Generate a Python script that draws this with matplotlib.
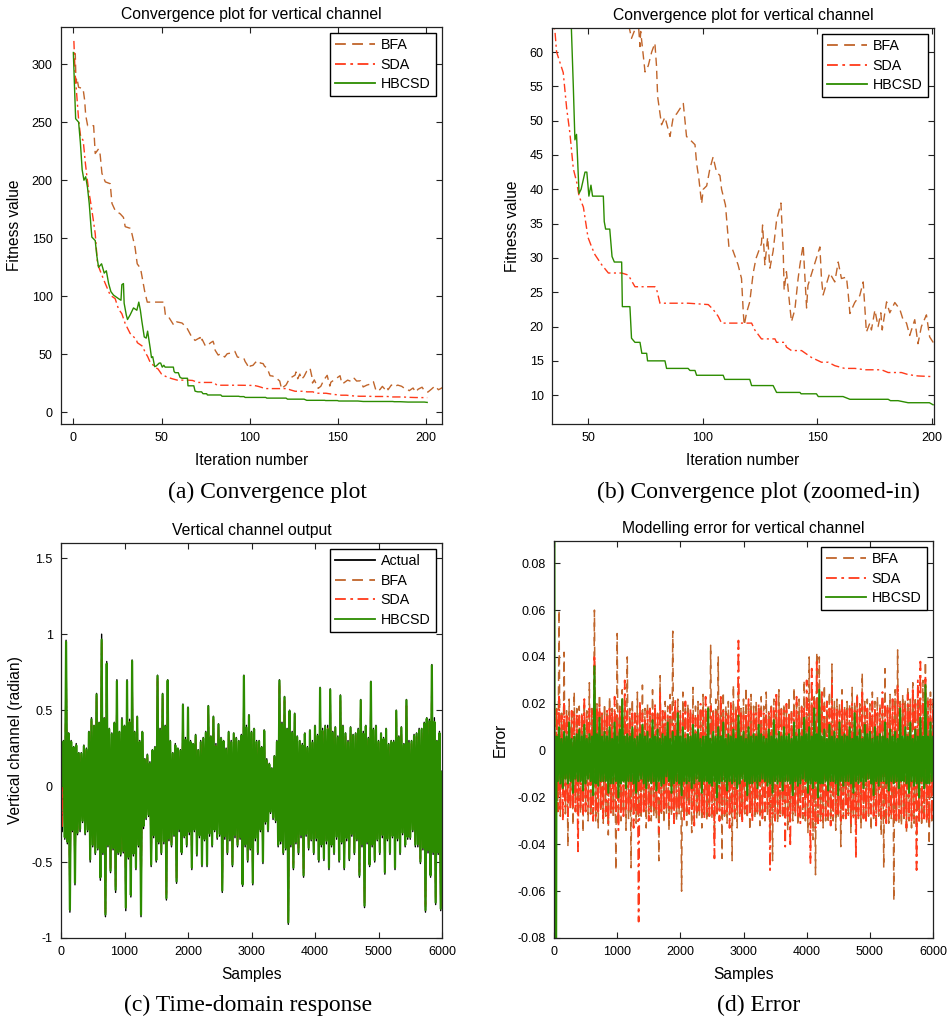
import numpy as np
import matplotlib
matplotlib.use("Agg")
import matplotlib.pyplot as plt
from matplotlib.ticker import FuncFormatter

plt.rcParams['font.family'] = ['Liberation Sans', 'DejaVu Sans']
plt.rcParams['axes.unicode_minus'] = False

# ---------------- Convergence data (iteration, fitness) ----------------
bfa_iter = [0, 1.1, 1.5, 2, 3, 5.5, 6.4, 7, 8.1, 11.5, 12.4, 14.3, 15.2, 16.2, 18.1, 20.9, 21.9, 23.7,
            26.6, 28.4, 29.4, 32.2, 33.2, 35, 36.2, 38.1, 39.6, 40.4, 41.9, 51.3, 52.2, 54.1, 57, 58.6,
            61.6, 64.3, 67.1, 69, 71.9, 72.7, 73, 74.9, 76.3, 77.8, 79.2, 79.9, 80.4, 82.1, 83.6, 85.8,
            87.2, 88.7, 91.6, 93, 95.2, 96.7, 97.4, 98.4, 99.6, 100.3, 101.8, 103.2, 104.6, 106.1, 107.6,
            108.3, 110, 111.5, 113, 115.5, 117, 117.8, 118.2, 119.2, 120.6, 122.1, 123.3, 125.7, 126.2,
            127.2, 128.4, 129.4, 130.8, 132.3, 134.2, 135.2, 135.6, 136.6, 138.1, 138.8, 140.3, 141.7,
            142.5, 143.9, 145.4, 146, 148.3, 151.2, 151.9, 152.6, 155.5, 157.7, 159.2, 160.6, 162.8,
            163.5, 164.3, 166.4, 168.6, 170.1, 171.5, 173, 173.7, 175.2, 176.6, 177.8, 178.4, 180.3,
            181.7, 183.9, 186.1, 187.5, 189, 190.4, 192.6, 194, 195.5, 197.7, 199.1, 201, 203, 205, 207, 210]
bfa_fit = [310, 309, 284, 288, 280, 279, 269, 256, 247, 247, 223, 227, 222, 206, 198.6, 197, 180, 174,
           171, 168, 160, 158.6, 154, 142, 128, 124, 111, 104.6, 95, 95, 83.6, 82, 75, 78,
           77, 73, 65, 62, 64.5, 60.8, 63, 57.1, 58, 60, 61.3, 58, 53.5, 49.4, 50.5, 47.7,
           50.5, 51, 52.5, 47.7, 47, 46.5, 43.8, 41.5, 37.9, 40, 40.5, 43, 44.7, 42.5, 42,
           40, 37.7, 31.6, 31.3, 29, 27, 21.9, 20.2, 22, 23.6, 27.8, 29.9, 32.1, 34.8,
           29, 33, 28.5, 31, 35.5, 38, 31, 25.3, 28, 22.9, 20.7, 22.5, 27,
           29, 31.9, 22.7, 26, 28.5, 31.6, 27, 24.6, 27.8, 26.5, 29.4, 27, 27.2,
           25, 21.9, 23.5, 24.5, 26.5, 19.2, 20.5, 19.5, 22.4, 20, 22, 19.5, 23.6,
           22, 23.5, 22.5, 21, 20.5, 18.7, 21, 17.5, 20, 21.7, 18.5, 17.5, 20, 22.7, 19.5, 22]

sda_iter = [0.3, 1, 2, 3, 4, 5.6, 6.8, 7.7, 8.7, 9.6, 11.1, 12.4, 13.7, 15.2, 18.1, 20.9, 23.7, 25.6,
            27.5, 29.4, 32.2, 35.6, 36.3, 39.2, 40.7, 42.1, 43.6, 45.1, 46.1, 48, 50, 51.6, 53, 56,
            58.9, 64.7, 67.6, 70.5, 79.2, 79.9, 81.4, 93.7, 102.5, 104.6, 106.8, 108.3, 121.4, 122.8,
            125.7, 131.6, 132.3, 135.9, 136.6, 138.8, 143.2, 147.5, 151.9, 154.8, 157.7, 162, 166.5,
            170.9, 178.1, 181, 186.8, 189.7, 194, 200.6]
sda_fit = [320, 292, 272, 252, 239, 234, 215, 203, 191, 183, 168, 154, 128, 122, 111, 101, 98, 89,
           85, 76.5, 68, 63, 60, 57, 51.8, 48.2, 43, 41, 39, 37.4, 33, 31.6, 30.5, 29,
           27.8, 27.8, 27.5, 25.8, 25.8, 25.5, 23.4, 23.4, 23.2, 22.5, 21.5, 20.5, 20.5, 19.5,
           18.2, 18.2, 17.7, 17.7, 17, 16.5, 16.5, 15.5, 14.8, 14.8, 14.3, 13.9, 13.9,
           13.7, 13.7, 13.3, 13.3, 13, 12.8, 12.7]

hb_iter = [0, 0.6, 1.3, 3, 4, 5, 6, 7, 8, 9, 10, 10.5, 12.4, 13.3, 14.3, 16, 17.5, 18.7, 20, 21.3,
           22.8, 25.6, 27, 27.5, 28.4, 28.8, 30, 30.7, 32.2, 34.1, 36, 37.1, 38, 38.8, 40.2, 41.3,
           42.1, 43.6, 44.3, 45, 46.1, 47, 48.7, 49.5, 50.4, 51.3, 52, 56.7, 57.1, 57.7, 59.5, 60.5,
           61.5, 64.7, 65, 68.3, 69, 70.5, 72.7, 73.5, 75.6, 76, 83.6, 84.3, 93.7, 94.5, 96.7, 97.4,
           109, 109.7, 120.6, 121.4, 130.8, 132.3, 142.5, 143, 149.7, 150.5, 161.3, 164.3, 181, 182,
           185.3, 189.7, 199, 200.6]
hb_fit = [310, 283, 253, 250, 232, 209, 200, 203, 194, 180, 160, 151, 148, 135, 125, 128, 120, 122, 111, 104,
          101, 98, 96.6, 110, 111, 94, 84, 80, 84, 90, 88, 95, 88, 79, 65, 64,
          70, 55, 47.2, 48, 39.4, 40, 42.5, 42.5, 39, 40.6, 39, 39, 35.3, 34.2, 34.2, 30.2,
          29.4, 29.4, 22.9, 22.9, 18.3, 17.7, 17.7, 16.1, 16.1, 15, 15, 13.9, 13.9, 13.6, 13.6, 12.9,
          12.9, 12.3, 12.3, 11.4, 11.4, 10.4, 10.4, 10.2, 10.2, 9.8, 9.8, 9.4, 9.4, 9.2,
          9.2, 8.9, 8.9, 8.6]

# ---------------- Time-domain data ----------------
# Read as alternating local maxima ("hi", at samples 0, 40, 80, ...) and
# local minima ("lo", at samples 20, 60, 100, ...).
sample_step = 20

actual_hi = [
    0.41, 0.30, 0.96, 0.35, 0.30, 0.26, 0.28, 0.22, 0.22, 0.27,
    0.25, 0.36, 0.45, 0.40, 0.61, 0.42, 1.00, 0.45, 0.82, 0.38,
    0.35, 0.42, 0.70, 0.36, 0.45, 0.40, 0.70, 0.44, 0.83, 0.36,
    0.46, 0.30, 0.36, 0.18, 0.21, 0.16, 0.24, 0.26, 0.73, 0.38,
    0.61, 0.40, 0.70, 0.30, 0.22, 0.28, 0.25, 0.24, 0.54, 0.32,
    0.52, 0.30, 0.28, 0.34, 0.24, 0.30, 0.32, 0.36, 0.53, 0.33,
    0.46, 0.28, 0.41, 0.32, 0.30, 0.25, 0.36, 0.30, 0.35, 0.32,
    0.30, 0.34, 0.73, 0.40, 0.47, 0.36, 0.38, 0.30, 0.30, 0.26,
    0.37, 0.18, 0.15, 0.12, 0.20, 0.30, 0.70, 0.42, 0.59, 0.38,
    0.50, 0.36, 0.48, 0.33, 0.30, 0.28, 0.35, 0.26, 0.37, 0.30,
    0.40, 0.34, 0.65, 0.38, 0.40, 0.40, 0.64, 0.36, 0.39, 0.33,
    0.60, 0.40, 0.35, 0.30, 0.39, 0.34, 0.35, 0.38, 0.57, 0.36,
    0.40, 0.32, 0.69, 0.38, 0.40, 0.30, 0.35, 0.32, 0.38, 0.28,
    0.30, 0.30, 0.50, 0.33, 0.39, 0.28, 0.57, 0.30, 0.30, 0.34,
    0.35, 0.38, 0.38, 0.42, 0.45, 0.44, 0.80, 0.45, 0.30, 0.36,
    0.10]
actual_lo = [
    -0.30, -0.35, -0.38, -0.83, -0.30, -0.65, -0.32, -0.30, -0.24, -0.32,
    -0.30, -0.50, -0.40, -0.45, -0.42, -0.62, -0.45, -0.86, -0.40, -0.57,
    -0.42, -0.70, -0.45, -0.46, -0.44, -0.82, -0.48, -0.73, -0.46, -0.55,
    -0.40, -0.86, -0.28, -0.22, -0.20, -0.53, -0.34, -0.50, -0.38, -0.45,
    -0.38, -0.75, -0.36, -0.40, -0.33, -0.64, -0.30, -0.45, -0.34, -0.40,
    -0.32, -0.55, -0.30, -0.46, -0.34, -0.53, -0.36, -0.53, -0.33, -0.40,
    -0.30, -0.35, -0.33, -0.70, -0.35, -0.45, -0.36, -0.53, -0.34, -0.40,
    -0.35, -0.66, -0.40, -0.50, -0.42, -0.65, -0.36, -0.45, -0.30, -0.51,
    -0.25, -0.30, -0.18, -0.22, -0.24, -0.40, -0.38, -0.45, -0.42, -0.91,
    -0.40, -0.55, -0.38, -0.45, -0.34, -0.60, -0.33, -0.42, -0.36, -0.45,
    -0.36, -0.50, -0.40, -0.49, -0.38, -0.55, -0.40, -0.45, -0.35, -0.50,
    -0.38, -0.55, -0.36, -0.49, -0.33, -0.45, -0.36, -0.60, -0.40, -0.80,
    -0.38, -0.53, -0.40, -0.50, -0.36, -0.45, -0.34, -0.58, -0.36, -0.45,
    -0.34, -0.55, -0.36, -0.45, -0.32, -0.40, -0.35, -0.35, -0.30, -0.40,
    -0.40, -0.51, -0.42, -0.83, -0.44, -0.60, -0.45, -0.78, -0.45, -0.82,
    -0.45]

bfa_err_hi = [
    0.012, 0.018, 0.060, 0.016, 0.042, 0.017, 0.022, 0.015, 0.025, 0.018,
    0.019, 0.016, 0.021, 0.017, 0.029, 0.018, 0.060, 0.020, 0.024, 0.017,
    0.020, 0.017, 0.023, 0.018, 0.016, 0.050, 0.019, 0.026, 0.018, 0.040,
    0.018, 0.022, 0.017, 0.025, 0.016, 0.028, 0.018, 0.020, 0.017, 0.026,
    0.018, 0.016, 0.032, 0.017, 0.021, 0.019, 0.024, 0.051, 0.018, 0.022,
    0.017, 0.025, 0.018, 0.020, 0.016, 0.027, 0.019, 0.021, 0.017, 0.024,
    0.018, 0.019, 0.045, 0.017, 0.022, 0.040, 0.018, 0.025, 0.019, 0.021,
    0.017, 0.028, 0.019, 0.027, 0.018, 0.022, 0.027, 0.018, 0.024, 0.019,
    0.021, 0.018, 0.023, 0.019, 0.025, 0.017, 0.019, 0.022, 0.018, 0.026,
    0.018, 0.020, 0.019, 0.023, 0.018, 0.027, 0.020, 0.022, 0.019, 0.030,
    0.022, 0.040, 0.024, 0.023, 0.042, 0.040, 0.022, 0.028, 0.021, 0.025,
    0.037, 0.021, 0.022, 0.020, 0.026, 0.019, 0.021, 0.020, 0.027, 0.021,
    0.024, 0.020, 0.033, 0.021, 0.022, 0.020, 0.025, 0.021, 0.023, 0.020,
    0.021, 0.035, 0.020, 0.024, 0.022, 0.026, 0.043, 0.021, 0.024, 0.022,
    0.027, 0.022, 0.029, 0.023, 0.026, 0.022, 0.030, 0.038, 0.023, 0.025,
    0.022]
bfa_err_lo = [
    -0.026, -0.025, -0.028, -0.018, -0.027, -0.041, -0.025, -0.032, -0.026, -0.028,
    -0.027, -0.035, -0.026, -0.030, -0.028, -0.027, -0.030, -0.033, -0.026, -0.031,
    -0.028, -0.036, -0.027, -0.029, -0.051, -0.028, -0.030, -0.027, -0.034, -0.029,
    -0.050, -0.027, -0.031, -0.028, -0.028, -0.026, -0.033, -0.027, -0.030, -0.028,
    -0.029, -0.047, -0.028, -0.031, -0.027, -0.034, -0.028, -0.029, -0.030, -0.027,
    -0.060, -0.028, -0.032, -0.027, -0.035, -0.029, -0.029, -0.028, -0.033, -0.027,
    -0.030, -0.028, -0.029, -0.036, -0.027, -0.030, -0.046, -0.028, -0.031, -0.027,
    -0.047, -0.029, -0.033, -0.028, -0.030, -0.027, -0.029, -0.034, -0.028, -0.029,
    -0.028, -0.032, -0.029, -0.030, -0.028, -0.036, -0.047, -0.029, -0.031, -0.028,
    -0.029, -0.028, -0.034, -0.029, -0.030, -0.028, -0.032, -0.029, -0.029, -0.030,
    -0.035, -0.031, -0.038, -0.053, -0.032, -0.030, -0.033, -0.030, -0.031, -0.030,
    -0.030, -0.034, -0.029, -0.041, -0.029, -0.030, -0.028, -0.035, -0.029, -0.031,
    -0.029, -0.033, -0.030, -0.029, -0.028, -0.034, -0.029, -0.030, -0.028, -0.036,
    -0.050, -0.030, -0.031, -0.029, -0.064, -0.030, -0.031, -0.032, -0.029, -0.035,
    -0.030, -0.033, -0.031, -0.036, -0.030, -0.031, -0.030, -0.031, -0.040, -0.030,
    -0.043]

sda_err_hi = [
    0.016, 0.018, 0.023, 0.015, 0.020, 0.016, 0.014, 0.017, 0.016, 0.015,
    0.015, 0.016, 0.022, 0.015, 0.018, 0.017, 0.041, 0.018, 0.020, 0.016,
    0.015, 0.017, 0.019, 0.016, 0.023, 0.015, 0.017, 0.018, 0.030, 0.017,
    0.014, 0.016, 0.016, 0.015, 0.021, 0.016, 0.013, 0.017, 0.018, 0.016,
    0.020, 0.016, 0.025, 0.017, 0.016, 0.015, 0.019, 0.016, 0.022, 0.017,
    0.015, 0.016, 0.021, 0.017, 0.018, 0.015, 0.014, 0.016, 0.020, 0.017,
    0.023, 0.016, 0.019, 0.017, 0.017, 0.016, 0.024, 0.017, 0.016, 0.015,
    0.021, 0.016, 0.018, 0.047, 0.017, 0.015, 0.016, 0.022, 0.017, 0.017,
    0.016, 0.020, 0.017, 0.016, 0.015, 0.016, 0.019, 0.017, 0.025, 0.018,
    0.018, 0.017, 0.020, 0.016, 0.016, 0.017, 0.023, 0.016, 0.019, 0.018,
    0.030, 0.020, 0.035, 0.021, 0.038, 0.020, 0.026, 0.019, 0.021, 0.018,
    0.030, 0.018, 0.018, 0.017, 0.022, 0.018, 0.017, 0.018, 0.020, 0.017,
    0.023, 0.018, 0.026, 0.019, 0.018, 0.017, 0.021, 0.018, 0.016, 0.018,
    0.025, 0.019, 0.019, 0.018, 0.022, 0.019, 0.028, 0.019, 0.020, 0.019,
    0.024, 0.020, 0.027, 0.021, 0.030, 0.038, 0.020, 0.032, 0.021, 0.022,
    0.020]
sda_err_lo = [
    -0.024, -0.026, -0.025, -0.030, -0.024, -0.028, -0.025, -0.025, -0.026, -0.043,
    -0.025, -0.027, -0.026, -0.024, -0.027, -0.030, -0.028, -0.026, -0.025, -0.029,
    -0.026, -0.031, -0.027, -0.025, -0.026, -0.034, -0.027, -0.028, -0.026, -0.026,
    -0.025, -0.033, -0.026, -0.073, -0.027, -0.027, -0.025, -0.030, -0.026, -0.024,
    -0.026, -0.035, -0.027, -0.026, -0.025, -0.029, -0.026, -0.031, -0.027, -0.025,
    -0.025, -0.030, -0.026, -0.027, -0.025, -0.032, -0.026, -0.026, -0.027, -0.029,
    -0.026, -0.028, -0.027, -0.046, -0.026, -0.030, -0.027, -0.027, -0.026, -0.033,
    -0.027, -0.029, -0.026, -0.028, -0.031, -0.026, -0.027, -0.027, -0.030, -0.026,
    -0.026, -0.027, -0.029, -0.026, -0.025, -0.051, -0.027, -0.030, -0.027, -0.028,
    -0.027, -0.041, -0.028, -0.041, -0.026, -0.027, -0.028, -0.031, -0.027, -0.028,
    -0.029, -0.048, -0.030, -0.033, -0.031, -0.030, -0.029, -0.028, -0.028, -0.032,
    -0.028, -0.027, -0.028, -0.030, -0.028, -0.029, -0.027, -0.031, -0.028, -0.046,
    -0.028, -0.028, -0.029, -0.030, -0.027, -0.027, -0.028, -0.032, -0.027, -0.029,
    -0.028, -0.031, -0.028, -0.028, -0.029, -0.030, -0.029, -0.027, -0.028, -0.033,
    -0.029, -0.030, -0.029, -0.051, -0.030, -0.029, -0.029, -0.030, -0.031, -0.030,
    -0.040]

hbcsd_err_hi = [
    0.300, 0.006, 0.010, 0.005, 0.008, 0.006, 0.012, 0.005, 0.006, 0.007,
    0.009, 0.006, 0.011, 0.005, 0.007, 0.006, 0.036, 0.007, 0.014, 0.006,
    0.008, 0.006, 0.010, 0.005, 0.012, 0.006, 0.009, 0.022, 0.006, 0.007,
    0.006, 0.010, 0.005, 0.006, 0.007, 0.011, 0.006, 0.008, 0.005, 0.013,
    0.006, 0.009, 0.005, 0.007, 0.006, 0.012, 0.005, 0.008, 0.006, 0.016,
    0.006, 0.010, 0.005, 0.007, 0.006, 0.011, 0.007, 0.009, 0.005, 0.006,
    0.006, 0.018, 0.005, 0.008, 0.006, 0.010, 0.006, 0.012, 0.005, 0.007,
    0.006, 0.009, 0.005, 0.015, 0.006, 0.008, 0.005, 0.010, 0.006, 0.007,
    0.006, 0.011, 0.007, 0.006, 0.005, 0.009, 0.006, 0.013, 0.005, 0.008,
    0.006, 0.010, 0.006, 0.007, 0.005, 0.012, 0.006, 0.009, 0.006, 0.014,
    0.007, 0.010, 0.006, 0.018, 0.007, 0.026, 0.006, 0.009, 0.005, 0.011,
    0.006, 0.008, 0.005, 0.012, 0.006, 0.007, 0.006, 0.010, 0.005, 0.016,
    0.006, 0.009, 0.005, 0.011, 0.007, 0.008, 0.005, 0.010, 0.006, 0.007,
    0.006, 0.012, 0.005, 0.009, 0.006, 0.008, 0.005, 0.018, 0.006, 0.010,
    0.006, 0.012, 0.005, 0.009, 0.006, 0.014, 0.006, 0.028, 0.006, 0.012,
    0.006]
hbcsd_err_lo = [
    -0.300, -0.013, -0.014, -0.016, -0.012, -0.014, -0.013, -0.018, -0.012, -0.013,
    -0.013, -0.017, -0.014, -0.012, -0.013, -0.019, -0.014, -0.015, -0.013, -0.013,
    -0.013, -0.018, -0.014, -0.014, -0.013, -0.020, -0.014, -0.013, -0.016, -0.013,
    -0.013, -0.014, -0.018, -0.013, -0.012, -0.014, -0.016, -0.013, -0.014, -0.013,
    -0.017, -0.013, -0.015, -0.014, -0.011, -0.013, -0.018, -0.014, -0.013, -0.014,
    -0.019, -0.013, -0.014, -0.013, -0.016, -0.014, -0.012, -0.013, -0.018, -0.013,
    -0.013, -0.014, -0.015, -0.013, -0.020, -0.014, -0.013, -0.013, -0.017, -0.013,
    -0.014, -0.013, -0.016, -0.014, -0.012, -0.013, -0.019, -0.014, -0.014, -0.013,
    -0.016, -0.013, -0.012, -0.013, -0.015, -0.014, -0.018, -0.013, -0.014, -0.013,
    -0.017, -0.013, -0.013, -0.014, -0.019, -0.013, -0.015, -0.014, -0.012, -0.013,
    -0.018, -0.014, -0.016, -0.013, -0.020, -0.014, -0.014, -0.013, -0.017, -0.013,
    -0.013, -0.014, -0.019, -0.013, -0.015, -0.013, -0.013, -0.014, -0.018, -0.013,
    -0.014, -0.013, -0.016, -0.013, -0.012, -0.014, -0.019, -0.013, -0.015, -0.013,
    -0.013, -0.014, -0.017, -0.013, -0.014, -0.013, -0.016, -0.013, -0.013, -0.014,
    -0.018, -0.013, -0.015, -0.014, -0.020, -0.013, -0.016, -0.014, -0.014, -0.013,
    -0.008]


def interleave(hi, lo):
    out = np.empty(len(hi) + len(lo))
    out[0::2] = hi
    out[1::2] = lo
    return out


# ---------------- Styling ----------------
C_BFA = '#C0652B'
C_SDA = '#FF3A1A'
C_HB = '#2C8C00'
BFA_DASH = (6, 3.5)
SDA_DASH = (6, 2.5, 1.5, 2.5)

W, H = 949, 1023
fig = plt.figure(figsize=(W / 100, H / 100), dpi=100)


def box(l, t, r, b):
    return [l / W, 1 - b / H, (r - l) / W, (b - t) / H]


def style(ax, title, xlabel, ylabel, ylab_px):
    ax.tick_params(direction='in', top=True, right=True, length=4, width=0.8,
                   labelsize=9, pad=6, colors='#222222', labelcolor='black')
    for s in ax.spines.values():
        s.set_linewidth(0.9)
        s.set_color('#222222')
        s.set_zorder(5)
    ax.set_title(title, fontsize=11.3, pad=6)
    ax.set_xlabel(xlabel, fontsize=11.2)
    ax.set_ylabel(ylabel, fontsize=11.2)
    bb = ax.get_position()
    ax.yaxis.set_label_coords(-ylab_px / (bb.width * W), 0.5)
    ax.xaxis.set_label_coords(0.5, -29 / (bb.height * H))
    fmt = FuncFormatter(lambda v, _: ('%g' % round(v, 6)))
    ax.xaxis.set_major_formatter(fmt)
    ax.yaxis.set_major_formatter(fmt)


def legend(ax):
    lg = ax.legend(loc='upper right', fontsize=10.3, handlelength=2.8, handletextpad=0.4,
                   labelspacing=0.38, borderpad=0.35, borderaxespad=0.45,
                   fancybox=False, edgecolor='black', framealpha=1)
    lg.get_frame().set_linewidth(1.0)
    lg.set_zorder(10)
    for ln in lg.get_lines():
        ln.set_linewidth(1.3)


def convergence(ax):
    ax.plot(bfa_iter, bfa_fit, color=C_BFA, lw=1.0, dashes=BFA_DASH, label='BFA')
    ax.plot(sda_iter, sda_fit, color=C_SDA, lw=1.0, dashes=SDA_DASH, label='SDA')
    ax.plot(hb_iter, hb_fit, color=C_HB, lw=1.0, label='HBCSD')


# (a)
ax_a = fig.add_axes(box(61, 27, 442, 424))
convergence(ax_a)
ax_a.set_xlim(-7, 209)
ax_a.set_ylim(-10, 332)
ax_a.set_xticks([0, 50, 100, 150, 200])
ax_a.set_yticks([0, 50, 100, 150, 200, 250, 300])
style(ax_a, 'Convergence plot for vertical channel', 'Iteration number', 'Fitness value', 39)
legend(ax_a)

# (b)
ax_b = fig.add_axes(box(552, 28, 934, 424))
convergence(ax_b)
ax_b.set_xlim(34.3, 201)
ax_b.set_ylim(5.8, 63.5)
ax_b.set_xticks([50, 100, 150, 200])
ax_b.set_yticks([10, 15, 20, 25, 30, 35, 40, 45, 50, 55, 60])
style(ax_b, 'Convergence plot for vertical channel', 'Iteration number', 'Fitness value', 32)
legend(ax_b)

# time-domain series
act = interleave(actual_hi, actual_lo)
e_bfa = interleave(bfa_err_hi, bfa_err_lo)
e_sda = interleave(sda_err_hi, sda_err_lo)
e_hb = interleave(hbcsd_err_hi, hbcsd_err_lo)
samples = np.arange(len(act)) * sample_step

# (c)
ax_c = fig.add_axes(box(61, 543, 442, 938))
ax_c.plot(samples, act, color='black', lw=1.0, label='Actual')
ax_c.plot(samples, act - e_bfa, color=C_BFA, lw=1.0, dashes=BFA_DASH, label='BFA')
ax_c.plot(samples, act - e_sda, color=C_SDA, lw=1.0, dashes=SDA_DASH, label='SDA')
ax_c.plot(samples, act - e_hb, color=C_HB, lw=1.6, label='HBCSD')
ax_c.set_xlim(0, 6000)
ax_c.set_ylim(-1, 1.6)
ax_c.set_xticks(range(0, 6001, 1000))
ax_c.set_yticks([-1, -0.5, 0, 0.5, 1, 1.5])
style(ax_c, 'Vertical channel output', 'Samples', 'Vertical channel (radian)', 38)
legend(ax_c)

# (d)
ax_d = fig.add_axes(box(554, 541, 933, 938))
ax_d.plot(samples, e_bfa, color=C_BFA, lw=1.1, dashes=BFA_DASH, label='BFA')
ax_d.plot(samples, e_sda, color=C_SDA, lw=1.3, dashes=SDA_DASH, label='SDA')
ax_d.plot(samples, e_hb, color=C_HB, lw=1.5, label='HBCSD')
ax_d.set_xlim(0, 6000)
ax_d.set_ylim(-0.08, 0.0895)
ax_d.set_xticks(range(0, 6001, 1000))
ax_d.set_yticks([-0.08, -0.06, -0.04, -0.02, 0, 0.02, 0.04, 0.06, 0.08])
style(ax_d, 'Modelling error for vertical channel', 'Samples', 'Error', 46)
legend(ax_d)

# captions
cap = dict(fontsize=17, family=['Liberation Serif', 'DejaVu Serif'], ha='center', va='center')
fig.text(267 / W, 1 - 492 / H, '(a) Convergence plot', **cap)
fig.text(758 / W, 1 - 492 / H, '(b) Convergence plot (zoomed-in)', **cap)
fig.text(248 / W, 1 - 1005 / H, '(c) Time-domain response', **cap)
fig.text(759 / W, 1 - 1005 / H, '(d) Error', **cap)

fig.savefig('out.png', dpi=100)
